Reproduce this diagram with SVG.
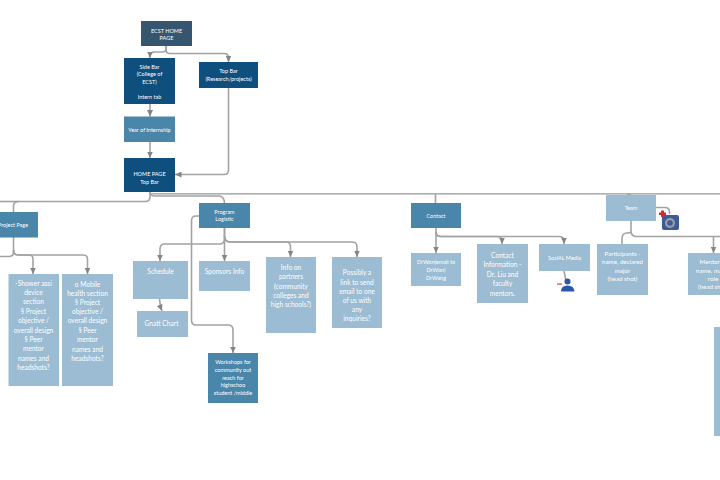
<svg xmlns="http://www.w3.org/2000/svg" width="720" height="480" viewBox="0 0 720 480">
<style>
.n{stroke:none}
.dk{fill:#0f4f7d}.ec{fill:#35566e}.md{fill:#4a85aa}.lt{fill:#9bbcd2}
text{font-family:Lato,"Open Sans",sans-serif;fill:#fff;text-anchor:middle}
.s{font-size:5.500px}.p{font-size:6.200px}.m{font-size:6.600px}
.c{fill:none;stroke:#a3a3a3;stroke-width:1.600}
.a{fill:none;stroke:#a3a3a3;stroke-width:1.600;marker-end:url(#h)}
.main{fill:none;stroke:#979797;stroke-width:1.300}
</style>
<defs><marker id="h" markerUnits="userSpaceOnUse" markerWidth="8" markerHeight="6" refX="6.500" refY="3" orient="auto"><path d="M0 0L6.500 3L0 6Z" fill="#858585"/></marker></defs>
<rect width="720" height="480" fill="#fff"/>
<g id="connectors">
<path class="a" d="M166 46V49Q166 52 162 52H155Q150 52 150 56V58"/>
<path class="a" d="M166 46V50Q166 53.500 170 53.500H224Q228.500 53.500 228.500 58V62"/>
<path class="a" d="M150 104V116.500"/>
<path class="a" d="M150 142V158"/>
<path class="a" d="M228.500 88V170Q228.500 174.500 224 174.500H175"/>
<path class="main" d="M150 192V193.800H720"/>
<path class="c" d="M150 192V197Q150 201.500 145 201.500H19Q13.500 201.500 13.500 206V212"/>
<path class="c" d="M19 201.500H0"/>
<path class="c" d="M13.500 237V252Q13.500 256.500 9 256.500H0"/>
<path class="a" d="M13.500 250Q13.500 255 18 255H29Q33 255 33 259V274"/>
<path class="a" d="M13.500 250Q13.500 255 18 255H83Q87.500 255 87.500 259V274"/>
<path class="c" d="M150 194Q151 196 155 196H219Q224 196 224.500 203"/>
<path class="a" d="M224.500 228V239Q224.500 244 219 244H165Q160 244 160 249V261"/>
<path class="a" d="M224.500 228V261"/>
<path class="a" d="M224.500 236Q224.500 242 230 242H286Q290.500 242 290.500 247V257"/>
<path class="a" d="M224.500 236Q224.500 242 230 242H352Q357 242 357 247V257"/>
<path class="a" d="M199 216H196Q191.500 216 191.500 221V320Q191.500 325 196 325H228Q233 325 233 330V353"/>
<path class="a" d="M159.500 299Q160 306 162 311"/>
<path class="c" d="M435.500 194V203"/>
<path class="a" d="M436 228V253"/>
<path class="a" d="M436 232Q436 236.500 441 236.500H497Q502 236.500 502 241V244"/>
<path class="a" d="M436 232Q436 236.500 441 236.500H559Q564 236.500 564 241V244"/>
<path class="c" d="M564 271L566 281"/>
<path class="c" d="M627 194L631 195"/>
<path class="c" d="M631 221V231Q631 236.500 637 236.500H720"/>
<path class="a" d="M713.500 236.500V253"/>
<path class="c" d="M631 232Q630 233 627 233Q622 233 622 239V244"/>
<path class="c" d="M656 207.500H665Q669.500 207.500 669.500 212V214"/>
</g>
<g id="ecst"><rect class="n ec" x="141" y="21" width="51" height="25"/><text class="s" x="166.500" y="32.500">ECST HOME</text><text class="s" x="166.500" y="39.500">PAGE</text></g>
<g id="sidebar"><rect class="n dk" x="124" y="58" width="51" height="46"/><text class="s" x="149.500" y="69">Side Bar</text><text class="s" x="149.500" y="76">(College of</text><text class="s" x="149.500" y="84">ECST)</text><text class="s" x="149.500" y="99">Intern tab</text></g>
<g id="topbar"><rect class="n dk" x="199" y="62" width="59" height="26"/><text class="s" x="228.500" y="73">Top Bar</text><text class="s" x="228.500" y="81">(Research/projects)</text></g>
<g id="year"><rect class="n md" x="124" y="116.500" width="51" height="25.500"/><text class="s" x="149.500" y="131.500">Year of Internship</text></g>
<g id="home"><rect class="n dk" x="124" y="158" width="51" height="34"/><text class="s" x="149.500" y="176">HOME PAGE</text><text class="s" x="149.500" y="184">Top Bar</text></g>
<g id="project"><rect class="n md" x="-12" y="212" width="50" height="25.500"/><text class="s" x="13" y="226.500">Project Page</text></g>
<g id="shower"><rect class="n lt" x="8.500" y="274" width="50.500" height="112"/>
<g class="m"><text x="33.500" y="286">-Shower assi</text><text x="33.500" y="295">device</text><text x="33.500" y="304">section</text><text x="33.500" y="314">§ Project</text><text x="33.500" y="323">objective /</text><text x="33.500" y="333">overall design</text><text x="33.500" y="342">§ Peer</text><text x="33.500" y="351">mentor</text><text x="33.500" y="361">names and</text><text x="33.500" y="370">headshots?</text></g></g>
<g id="mobile"><rect class="n lt" x="62" y="274" width="51" height="112"/>
<g class="m"><text x="87.500" y="287">o  Mobile</text><text x="87.500" y="296">health section</text><text x="87.500" y="305">§ Project</text><text x="87.500" y="314">objective /</text><text x="87.500" y="323">overall design</text><text x="87.500" y="333">§ Peer</text><text x="87.500" y="342">mentor</text><text x="87.500" y="352">names and</text><text x="87.500" y="361">headshots?</text></g></g>
<g id="schedule"><rect class="n lt" x="133" y="261" width="55" height="38"/><text class="m" x="160.500" y="274">Schedule</text></g>
<g id="gnatt"><rect class="n lt" x="137" y="311" width="51" height="26"/><text class="m" x="161.500" y="326">Gnatt Chart</text></g>
<g id="program"><rect class="n md" x="199" y="203" width="51" height="25"/><text class="s" x="224.500" y="214">Program</text><text class="s" x="224.500" y="221">Logistic</text></g>
<g id="sponsors"><rect class="n lt" x="199" y="261" width="51" height="30"/><text class="m" x="224.500" y="274">Sponsors Info</text></g>
<g id="info"><rect class="n lt" x="266" y="257" width="50" height="76"/><g class="m"><text x="291" y="270">Info on</text><text x="291" y="279">partners</text><text x="291" y="289">(community</text><text x="291" y="298">colleges and</text><text x="291" y="307">high schools?)</text></g></g>
<g id="possibly"><rect class="n lt" x="332" y="257" width="50" height="71"/><g class="m"><text x="357" y="275">Possibly a</text><text x="357" y="285">link to send</text><text x="357" y="294">email to one</text><text x="357" y="303">of us with</text><text x="357" y="312">any</text><text x="357" y="321">inquiries?</text></g></g>
<g id="workshops"><rect class="n md" x="208" y="353" width="50" height="50"/><g class="s"><text x="233" y="364">Workshops for</text><text x="233" y="372">community out</text><text x="233" y="380">reach for</text><text x="233" y="387">highschoo</text><text x="233" y="395">student /middle</text></g></g>
<g id="contact"><rect class="n md" x="411" y="203" width="50" height="25"/><text class="s" x="436" y="218">Contact</text></g>
<g id="drwon"><rect class="n lt" x="411" y="253" width="50" height="33"/><g class="s"><text x="436" y="264">DrWon(email to</text><text x="436" y="272">DrWon)</text><text x="436" y="280">DrWang</text></g></g>
<g id="contactinfo"><rect class="n lt" x="477" y="244" width="51" height="59"/><g class="m"><text x="502.500" y="258">Contact</text><text x="502.500" y="267">Information -</text><text x="502.500" y="277">Dr. Liu and</text><text x="502.500" y="286">faculty</text><text x="502.500" y="296">mentors.</text></g></g>
<g id="social"><rect class="n lt" x="539" y="244" width="51" height="27"/><text class="s" x="564.500" y="260">SociAL Media</text></g>
<g id="person"><rect x="557" y="283.500" width="5" height="1.200" fill="#c0504d"/><circle cx="567.500" cy="281.500" r="3" fill="#2b57a7"/><path d="M561 291.500Q561 285.500 567.500 285.500Q574 285.500 574.500 291.500Z" fill="#2b57a7"/></g>
<g id="team"><rect class="n lt" x="606" y="195" width="50" height="26"/><text class="s" x="631" y="210">Team</text></g>
<g id="camera"><rect x="662" y="215" width="17" height="15" rx="2" fill="#3d5a99"/><circle cx="670" cy="223" r="5" fill="#9aa0a6"/><circle cx="670" cy="223" r="2.800" fill="#3d5a99"/><path d="M659 212.500H661V210.500H664V212.500H666V215H664V217H661V215H659Z" fill="#d8273c"/></g>
<g id="participants"><rect class="n lt" x="597" y="244" width="51" height="51"/><g class="p"><text x="622.500" y="256">Participants -</text><text x="622.500" y="264">name, declared</text><text x="622.500" y="273">major</text><text x="622.500" y="281">(head shot)</text></g></g>
<g id="mentors"><rect class="n lt" x="688" y="253" width="40" height="42"/><g class="p"><text x="713" y="264">Mentors -</text><text x="713" y="273">name, major,</text><text x="713" y="281">role</text><text x="713" y="289">(head shot)</text></g></g>
<g id="right-box"><rect class="n lt" x="714" y="327" width="10" height="109"/></g>
</svg>
